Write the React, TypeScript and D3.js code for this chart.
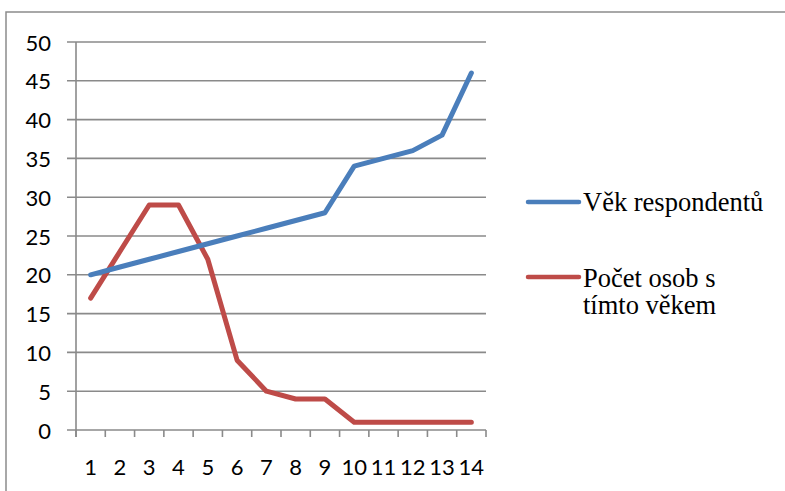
import React from "react";
import * as d3 from "d3";

const categories = ["1", "2", "3", "4", "5", "6", "7", "8", "9", "10", "11", "12", "13", "14"];
const vekRespondentu = [20, 21, 22, 23, 24, 25, 26, 27, 28, 34, 35, 36, 38, 46];
const pocetOsob = [17, 23, 29, 29, 22, 9, 5, 4, 4, 1, 1, 1, 1, 1];
const yTicks = [0, 5, 10, 15, 20, 25, 30, 35, 40, 45, 50];
const seriesNames = ["Věk respondentů", "Počet osob s tímto věkem"];
const colors = ["#4A7EBB", "#BE4B48"];

const W = 785;
const H = 491;
const plot = { left: 76, right: 486, top: 42, bottom: 430 };

export default function App() {
  const x = d3.scaleBand<string>().domain(categories).range([plot.left, plot.right]);
  const y = d3.scaleLinear().domain([0, 50]).range([plot.bottom, plot.top]);
  const cx = (i: number) => (x(categories[i]) as number) + x.bandwidth() / 2;
  const line = d3
    .line<number>()
    .x((_, i) => cx(i))
    .y((d) => y(d));
  const grid = "#8a8a8a";
  const sansStyle = { fontFamily: 'Lato, "Open Sans", sans-serif' };
  const serifStyle = { fontFamily: '"Liberation Serif", serif' };
  const boundaries = categories.map((c) => x(c) as number).concat([plot.right]);
  const legendWords = seriesNames[1].split(" ");
  const legendLines = [legendWords.slice(0, 3).join(" "), legendWords.slice(3).join(" ")];

  return (
    <svg
      width={W}
      height={H}
      style={{ position: "fixed", left: 0, top: 0, background: "#fff" }}
    >
      <rect x={0} y={0} width={W} height={H} fill="#fff" />
      <rect x={6} y={12} width={820} height={520} fill="none" stroke="#8c8c8c" strokeWidth={1.5} />
      {yTicks.map((t) => (
        <g key={t}>
          <line x1={plot.left - 9} x2={plot.right} y1={y(t)} y2={y(t)} stroke={grid} strokeWidth={1.6} />
          <text
            x={51}
            y={y(t)}
            textAnchor="end"
            dominantBaseline="central"
            style={sansStyle}
            fontSize={22}
            fill="#000"
          >
            {t}
          </text>
        </g>
      ))}
      <line x1={plot.left} x2={plot.left} y1={plot.top} y2={plot.bottom + 7} stroke={grid} strokeWidth={1.6} />
      {boundaries.map((b, i) => (
        <line key={i} x1={b} x2={b} y1={plot.bottom} y2={plot.bottom + 7} stroke={grid} strokeWidth={1.6} />
      ))}
      {categories.map((c, i) => (
        <text
          key={c}
          x={cx(i)}
          y={466}
          textAnchor="middle"
          dominantBaseline="central"
          style={sansStyle}
          fontSize={22}
          fill="#000"
        >
          {c}
        </text>
      ))}
      <path d={line(pocetOsob) || ""} fill="none" stroke={colors[1]} strokeWidth={5} strokeLinecap="round" strokeLinejoin="round" />
      <path d={line(vekRespondentu) || ""} fill="none" stroke={colors[0]} strokeWidth={5} strokeLinecap="round" strokeLinejoin="round" />

      <line x1={528} x2={579} y1={202} y2={202} stroke={colors[0]} strokeWidth={4.5} strokeLinecap="round" />
      <text x={583} y={211} style={serifStyle} fontSize={26.5} fill="#000">
        {seriesNames[0]}
      </text>
      <line x1={528} x2={579} y1={277} y2={277} stroke={colors[1]} strokeWidth={4.5} strokeLinecap="round" />
      <text x={583} y={287} style={serifStyle} fontSize={26.5} fill="#000">
        {legendLines[0]}
      </text>
      <text x={583} y={314} style={serifStyle} fontSize={26.5} fill="#000">
        {legendLines[1]}
      </text>
    </svg>
  );
}
